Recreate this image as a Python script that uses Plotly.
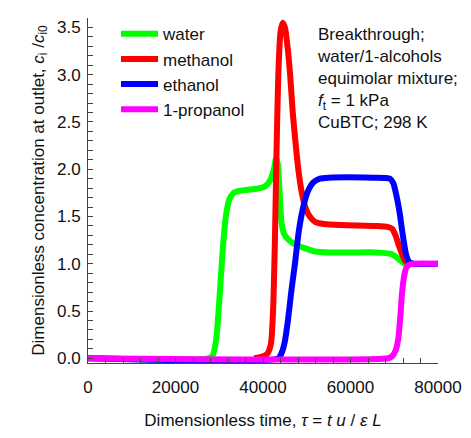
import plotly.graph_objects as go

# ---- data ----
water_x = [0, 27500, 28500, 29300, 30000, 30800, 31500, 32300, 33300, 34500, 36000, 38000,
           40000, 41000, 41800, 42500, 43000, 43400, 43800, 44200, 44700, 45500, 46800, 48000,
           49200, 50500, 52000, 55000, 60000, 66000, 68500, 69500, 70500, 71500, 72500, 73000]
water_y = [0, 0, 0.03, 0.2, 0.6, 1.15, 1.5, 1.68, 1.75, 1.77, 1.78, 1.79,
           1.81, 1.84, 1.9, 2.0, 2.12, 2.05, 1.75, 1.45, 1.33, 1.27, 1.22, 1.19,
           1.17, 1.15, 1.13, 1.12, 1.12, 1.12, 1.11, 1.10, 1.07, 1.03, 1.0, 1.0]

methanol_x = [38000, 40000, 41000, 41800, 42300, 42700, 43100, 43500, 44000, 44500,
              45000, 45600, 46200, 46800, 47500, 48200, 49000, 49800, 50700, 52000, 54000,
              58000, 66000, 68500, 69500, 70300, 71000, 71800, 72500, 73200]
methanol_y = [0.0, 0.02, 0.05, 0.15, 0.5, 1.2, 2.2, 3.0, 3.45, 3.55,
              3.5, 3.3, 3.0, 2.6, 2.25, 1.95, 1.72, 1.58, 1.5, 1.44, 1.42,
              1.41, 1.40, 1.39, 1.37, 1.3, 1.2, 1.1, 1.03, 1.0]

ethanol_x = [0, 43500, 44200, 45000, 45700, 46500, 47300, 48200, 49200, 50200, 51500, 53000,
             55000, 65000, 69000, 69800, 70500, 71200, 71800, 72300, 72800, 73400, 74300, 80000]
ethanol_y = [0, 0, 0.05, 0.18, 0.4, 0.72, 1.0, 1.35, 1.6, 1.76, 1.86, 1.9,
             1.91, 1.91, 1.9, 1.85, 1.72, 1.55, 1.35, 1.2, 1.08, 1.02, 1.0, 1.0]

propanol_x = [0, 68500, 69500, 70300, 70900, 71400, 71800, 72300, 72800, 73500, 74500, 80000]
propanol_y = [0, 0, 0.02, 0.08, 0.2, 0.45, 0.7, 0.88, 0.96, 0.99, 1.0, 1.0]

names = ["water", "methanol", "ethanol", "1-propanol"]
colors = ["#00ff00", "#ff0000", "#0000ff", "#ff00ff"]
series = [(water_x, water_y), (methanol_x, methanol_y), (ethanol_x, ethanol_y), (propanol_x, propanol_y)]

FONT = "Arial, Liberation Sans, sans-serif"
AX = "#444444"

fig = go.Figure()
for (xs, ys), nm, c in zip(series, names, colors):
    fig.add_trace(go.Scatter(x=xs, y=ys, mode="lines", name=nm,
                             line=dict(color=c, width=6, shape="spline", smoothing=0.6)))

fig.update_layout(
    width=471, height=438,
    margin=dict(l=88, r=33, t=18, b=75, autoexpand=False),
    paper_bgcolor="white", plot_bgcolor="white",
    font=dict(family=FONT, size=17, color="#111"),
    showlegend=True,
    legend=dict(x=0.08, y=1.005, xanchor="left", yanchor="top", itemwidth=37,
                bgcolor="rgba(0,0,0,0)", font=dict(size=17), tracegroupgap=0),
)

fig.update_xaxes(
    range=[0, 80000], tickmode="linear", tick0=0, dtick=20000, tickformat="d", automargin=False,
    ticks="inside", ticklen=5, tickwidth=1, tickcolor=AX, showline=True, linecolor=AX, linewidth=1,
    showgrid=False, zeroline=False, tickfont=dict(size=17), ticklabelstandoff=9,
    minor=dict(dtick=4000, tick0=0, ticks="inside", ticklen=5, tickwidth=1, tickcolor=AX, showgrid=False),
    title=dict(text="Dimensionless time, <i>τ</i> = <i>t u</i> / <i>ε L</i>", font=dict(size=17), standoff=17),
)
fig.update_yaxes(
    range=[-0.05, 3.6], tickmode="linear", tick0=0, dtick=0.5, tickformat=".1f", automargin=False,
    ticks="inside", ticklen=5, tickwidth=1, tickcolor=AX, showline=True, linecolor=AX, linewidth=1,
    showgrid=False, zeroline=False, tickfont=dict(size=17), ticklabelstandoff=3,
    minor=dict(dtick=0.1, tick0=0, ticks="inside", ticklen=5, tickwidth=1, tickcolor=AX, showgrid=False),
    title=dict(text="Dimensionless concentration at outlet, <i>c</i><sub>i</sub> /<i>c</i><sub>i0</sub>",
               font=dict(size=17), standoff=8),
)

fig.add_annotation(
    xref="paper", yref="paper", x=0.649, y=0.985, xanchor="left", yanchor="top",
    align="left", showarrow=False, font=dict(size=17, family=FONT, color="#111"),
    text="Breakthrough;<br>water/1-alcohols<br>equimolar mixture;<br><i>f</i><sub>t</sub> = 1 kPa<br>CuBTC; 298 K",
)

fig.write_html("out.html")
